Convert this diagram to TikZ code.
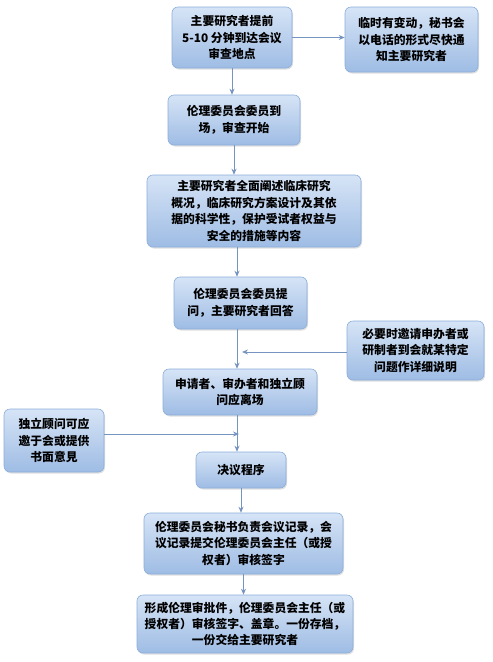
\documentclass[tikz,border=0pt]{standalone}
\usepackage{fontspec}
\newfontfamily\cjk{Noto Sans CJK SC}
\usepackage{tikz}
\usetikzlibrary{arrows.meta,shadows}
\definecolor{BoxTop}{RGB}{214,228,246}
\definecolor{BoxBot}{RGB}{158,188,228}
\definecolor{BoxLine}{RGB}{140,174,218}
\definecolor{ArrCol}{RGB}{118,148,192}
\tikzset{
  stepbox/.style={rectangle,rounded corners=6pt,draw=BoxLine,line width=0.6pt,
    top color=BoxTop,bottom color=BoxBot,align=center,inner sep=0pt,
    font=\cjk\bfseries\fontsize{11.8}{16.4}\selectfont,
    drop shadow={shadow xshift=1pt,shadow yshift=-1.5pt,opacity=0.25}},
  arr/.style={-{Stealth[length=6pt,width=5pt]},draw=ArrCol,fill=ArrCol,line width=0.8pt}
}

\begin{document}
\begin{tikzpicture}[x=1pt,y=-1pt]
  \useasboundingbox (0,0) rectangle (493,662);
  \node[stepbox,minimum width=120pt,minimum height=61pt] (arrive) at (232,37.5)
    {主要研究者提前\\5-10 分钟到达会议\\审查地点};
  \node[stepbox,minimum width=133pt,minimum height=65pt] (notify) at (411.5,39.5)
    {临时有变动，秘书会\\以电话的形式尽快通\\知主要研究者};
  \node[stepbox,minimum width=132pt,minimum height=50pt] (start) at (234,120)
    {伦理委员会委员到\\场，审查开始};
  \node[stepbox,minimum width=214pt,minimum height=72pt] (present) at (254,211)
    {主要研究者全面阐述临床研究\\概况，临床研究方案设计及其依\\据的科学性，保护受试者权益与\\安全的措施等内容};
  \node[stepbox,minimum width=133pt,minimum height=52pt] (question) at (240.5,303)
    {伦理委员会委员提\\问，主要研究者回答};
  \node[stepbox,minimum width=137pt,minimum height=59pt] (invite) at (415.5,350.5)
    {必要时邀请申办者或\\研制者到会就某特定\\问题作详细说明};
  \node[stepbox,minimum width=154pt,minimum height=46pt] (leave) at (240,392)
    {申请者、审办者和独立顾\\问应离场};
  \node[stepbox,minimum width=100pt,minimum height=63pt] (advisor) at (54,440.5)
    {独立顾问可应\\邀于会或提供\\书面意見};
  \node[stepbox,minimum width=90pt,minimum height=36pt] (decide) at (241,470)
    {决议程序};
  \node[stepbox,minimum width=199pt,minimum height=61pt] (record) at (243.5,543.5)
    {伦理委员会秘书负责会议记录，会\\议记录提交伦理委员会主任（或授\\权者）审核签字};
  \node[stepbox,minimum width=216pt,minimum height=58pt] (approve) at (245,624)
    {形成伦理审批件，伦理委员会主任（或\\授权者）审核签字、盖章。一份存档，\\一份交给主要研究者};

  \coordinate (trunk) at (237,0);
  \coordinate (invin) at (242,352);
  \coordinate (advin) at (239,434);

  \draw[arr] (arrive) -- (notify.west |- arrive);
  \draw[arr] (arrive.south) -- (arrive.south |- start.north);
  \draw[arr] (start.south) -- (start.south |- present.north);
  \draw[arr] (present.south -| trunk) -- (question.north -| trunk);
  \draw[arr] (question.south -| trunk) -- (leave.north -| trunk);
  \draw[arr] (invite.west |- invin) -- (invin);
  \draw[arr] (leave.south -| trunk) -- (decide.north -| trunk);
  \draw[arr] (advisor.east |- advin) -- (advin);
  \draw[arr] (decide.south) -- (decide.south |- record.north);
  \draw[arr] (record.south) -- (record.south |- approve.north);
\end{tikzpicture}
\end{document}
